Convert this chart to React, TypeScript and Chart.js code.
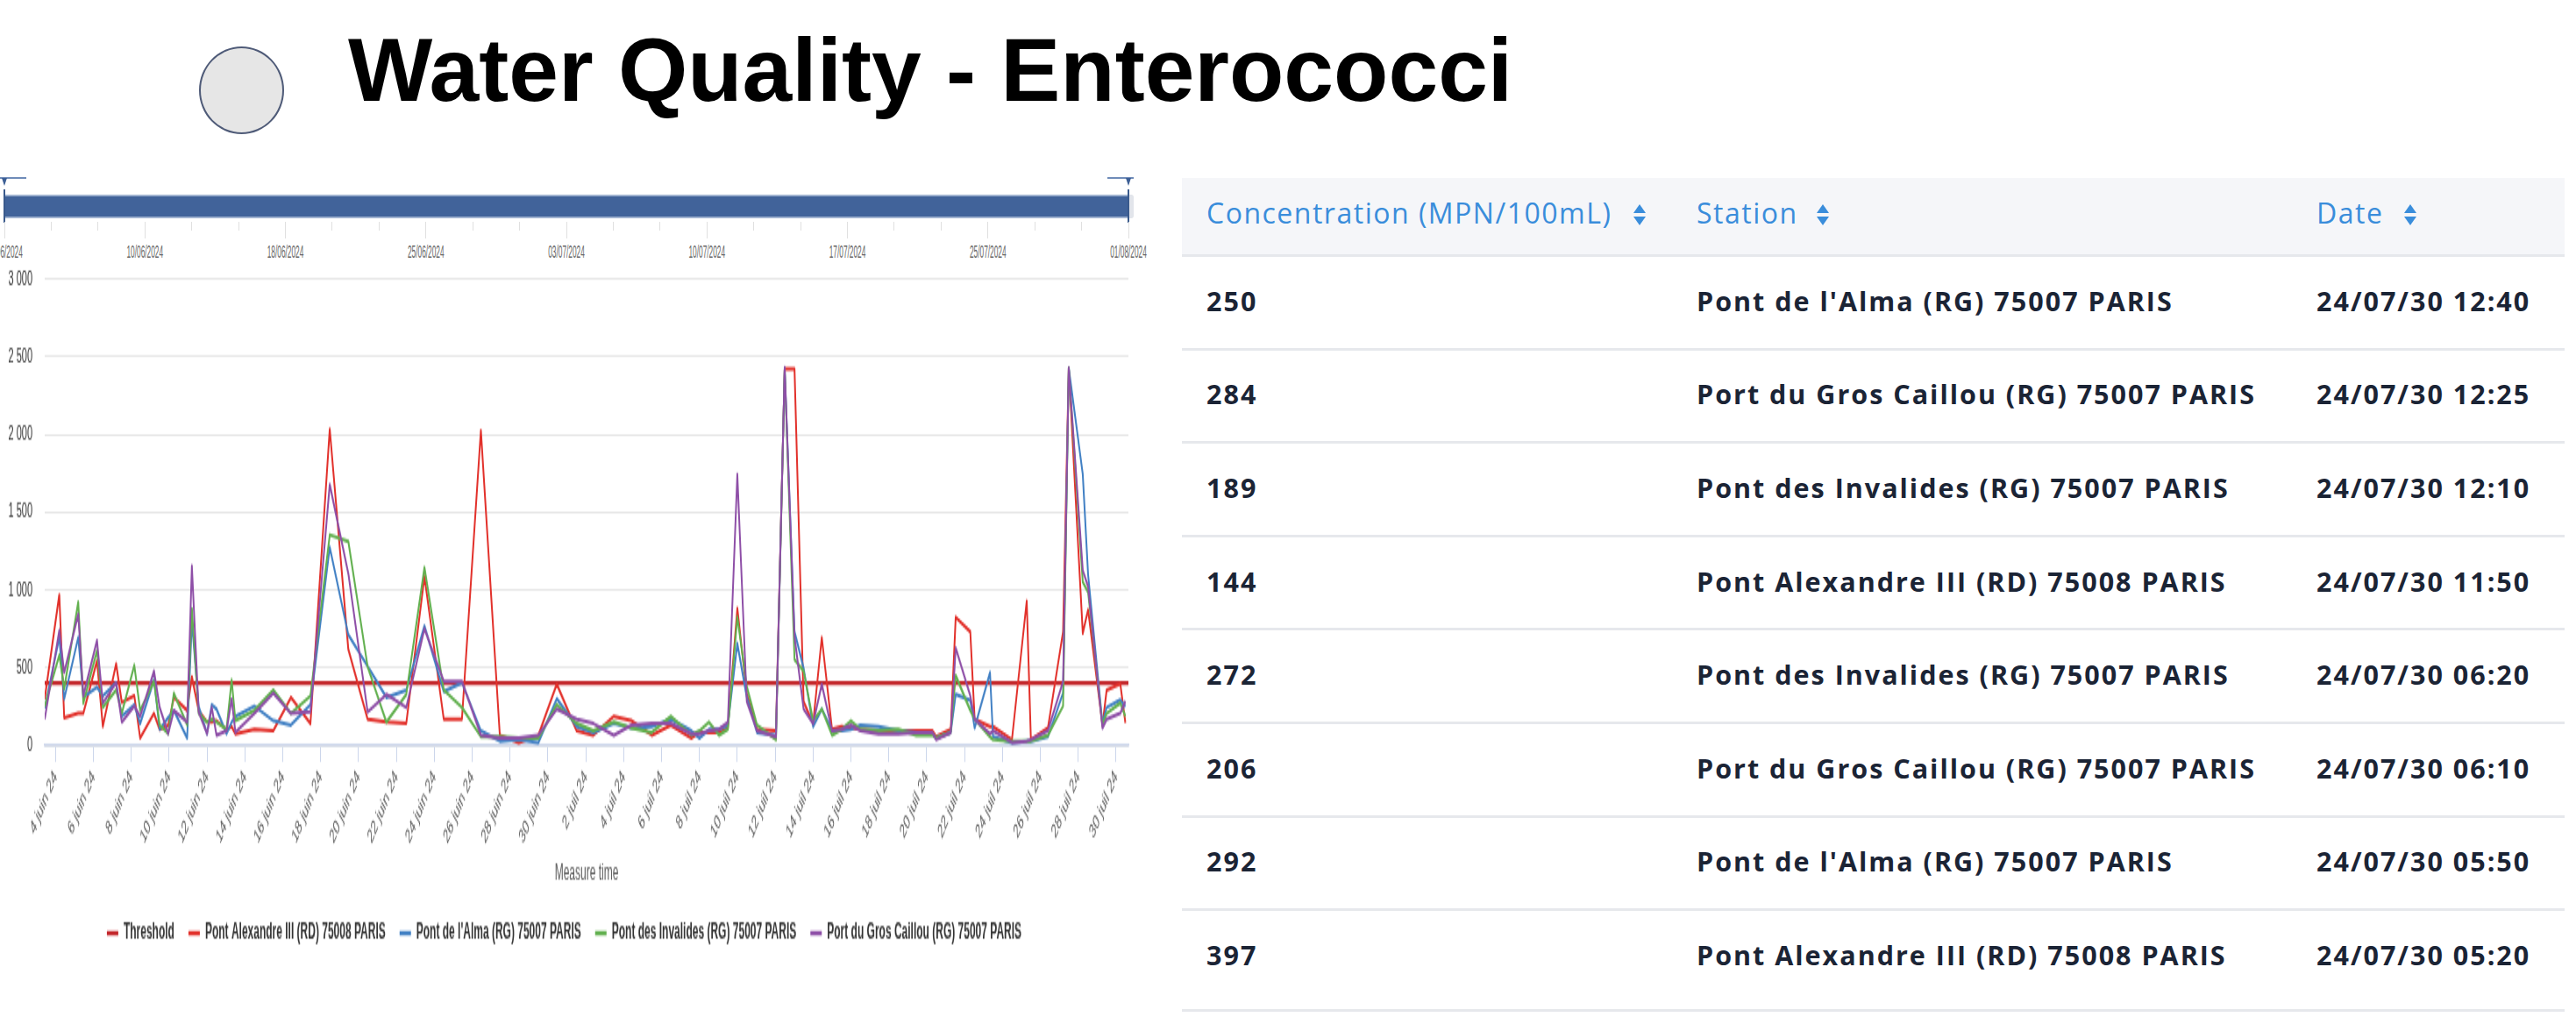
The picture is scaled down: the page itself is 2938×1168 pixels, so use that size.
import React, { useEffect, useRef } from "react";
import { Chart, registerables } from "chart.js";

Chart.register(...registerables);

// ---------- data ----------
// sample times, in days since 0 June 2024 (4 = 4 June, 32 = 2 July)
const times = [
  3.43, 4.2, 4.46, 5.2, 5.47, 6.19, 6.5, 7.2, 7.5, 8.16, 8.47, 9.2, 9.5, 9.95, 10.25, 10.95, 11.2, 11.56, 12.0, 12.25,
  12.5, 13.03, 13.3, 13.5, 14.5, 15.5, 16.43, 17.46, 18.48, 19.46, 20.48, 21.47, 22.52, 23.48, 24.5, 25.46, 26.46, 27.46,
  28.46, 29.5, 30.47, 31.52, 32.4, 33.48, 34.4, 35.48, 36.49, 37.57, 38.0, 38.5, 39.03, 39.5, 40.0, 40.5, 41.04, 42.04,
  42.5, 43.02, 43.5, 44.0, 44.46, 45.0, 45.5, 46.0, 46.5, 47.45, 48.5, 49.45, 50.3, 50.5, 51.27, 51.53, 52.3, 52.53,
  53.34, 53.5, 54.5, 55.28, 55.5, 56.4, 57.2, 57.5, 58.24, 58.52, 59.28, 59.5, 60.22, 60.49,
];

const alexandre = [
  300, 969, 178, 206, 206, 544, 122, 525, 277, 319, 47, 206, 103, 130, 309, 225, 441, 225, 150, 150,
  159, 103, 120, 75, 103, 94, 309, 141, 2034, 619, 169, 150, 141, 1087, 169, 169, 2025, 66,
  19, 66, 394, 94, 66, 187, 159, 66, 131, 47, 84, 84, 84, 112, 881, 330, 103, 94,
  2420, 2420, 281, 141, 694, 103, 122, 112, 103, 94, 94, 94, 94, 56, 103, 825, 731, 169,
  122, 122, 37, 928, 37, 112, 731, 2428, 722, 872, 131, 356, 397, 144,
];

const alma = [
  240, 694, 300, 694, 310, 375, 319, 403, 187, 262, 141, 422, 103, 180, 225, 47, 800, 250, 75, 262,
  234, 75, 150, 187, 253, 159, 131, 262, 1275, 712, 510, 309, 356, 768, 347, 403, 94, 28,
  37, 19, 300, 122, 84, 141, 112, 122, 169, 94, 47, 103, 103, 131, 656, 310, 84, 66,
  2420, 731, 497, 122, 234, 94, 94, 103, 131, 122, 94, 84, 75, 47, 84, 328, 291, 112,
  469, 56, 19, 28, 28, 56, 337, 2428, 1743, 1100, 141, 244, 292, 250,
];

const invalides = [
  253, 581, 366, 922, 272, 609, 244, 356, 206, 516, 225, 412, 131, 75, 337, 131, 880, 206, 150, 169,
  150, 103, 422, 159, 225, 356, 206, 319, 1354, 1312, 506, 150, 328, 1144, 356, 244, 56, 56,
  47, 47, 262, 141, 94, 150, 112, 84, 187, 66, 94, 150, 66, 103, 825, 380, 131, 37,
  2420, 553, 478, 159, 234, 66, 103, 159, 103, 94, 103, 66, 66, 47, 84, 450, 225, 169,
  56, 37, 28, 28, 28, 66, 253, 2428, 1050, 985, 131, 206, 272, 189,
];

const grosCaillou = [
  169, 740, 469, 844, 319, 675, 272, 403, 150, 253, 187, 478, 244, 75, 225, 150, 1153, 215, 75, 244,
  66, 94, 300, 84, 206, 337, 206, 215, 1678, 1106, 215, 328, 244, 750, 412, 412, 66, 47,
  47, 66, 234, 169, 141, 66, 131, 141, 141, 75, 75, 94, 103, 150, 1743, 281, 94, 56,
  2430, 700, 234, 141, 394, 94, 103, 131, 94, 75, 75, 84, 84, 37, 84, 628, 319, 169,
  75, 94, 19, 28, 37, 94, 412, 2428, 1125, 1022, 112, 169, 206, 284,
];

const thresholdValue = 400;
const xMin = 3.43;
const xMax = 60.65;

const xTickDays = [4, 6, 8, 10, 12, 14, 16, 18, 20, 22, 24, 26, 28, 30, 32, 34, 36, 38, 40, 42, 44, 46, 48, 50, 52, 54, 56, 58, 60];
const xTickLabels = [
  "4 juin 24", "6 juin 24", "8 juin 24", "10 juin 24", "12 juin 24", "14 juin 24", "16 juin 24", "18 juin 24",
  "20 juin 24", "22 juin 24", "24 juin 24", "26 juin 24", "28 juin 24", "30 juin 24",
  "2 juil 24", "4 juil 24", "6 juil 24", "8 juil 24", "10 juil 24", "12 juil 24", "14 juil 24", "16 juil 24",
  "18 juil 24", "20 juil 24", "22 juil 24", "24 juil 24", "26 juil 24", "28 juil 24", "30 juil 24",
];
const yTicks = [0, 500, 1000, 1500, 2000, 2500, 3000];

const navLabels = ["03/06/2024", "10/06/2024", "18/06/2024", "25/06/2024", "03/07/2024", "10/07/2024", "17/07/2024", "25/07/2024", "01/08/2024"];

const seriesNames = [
  "Threshold",
  "Pont Alexandre III (RD) 75008 PARIS",
  "Pont de l'Alma (RG) 75007 PARIS",
  "Pont des Invalides (RG) 75007 PARIS",
  "Port du Gros Caillou (RG) 75007 PARIS",
];

const tableHeaders = ["Concentration (MPN/100mL)", "Station", "Date"];
const tableConcentration = [250, 284, 189, 144, 272, 206, 292, 397];
const tableStation = [
  "Pont de l'Alma (RG) 75007 PARIS",
  "Port du Gros Caillou (RG) 75007 PARIS",
  "Pont des Invalides (RG) 75007 PARIS",
  "Pont Alexandre III (RD) 75008 PARIS",
  "Pont des Invalides (RG) 75007 PARIS",
  "Port du Gros Caillou (RG) 75007 PARIS",
  "Pont de l'Alma (RG) 75007 PARIS",
  "Pont Alexandre III (RD) 75008 PARIS",
];
const tableDate = [
  "24/07/30 12:40", "24/07/30 12:25", "24/07/30 12:10", "24/07/30 11:50",
  "24/07/30 06:20", "24/07/30 06:10", "24/07/30 05:50", "24/07/30 05:20",
];

// ---------- styles ----------
const FONT = "'Liberation Sans', Arial, Helvetica, sans-serif";
const TFONT = "'Open Sans', 'Noto Sans', sans-serif";
const C_THRESH = "#c3262a";
const C_RED = "#e2312b";
const C_BLUE = "#4180c4";
const C_GREEN = "#62b04f";
const C_PURPLE = "#8e4fa7";
const SY = 2.1; // vertical stretch of the chart picture
const CW = 1293;
const CH = 380;

function fmtY(v: number): string {
  if (v >= 1000) return Math.floor(v / 1000) + " " + String(v % 1000).padStart(3, "0");
  return String(v);
}

function ChartPanel() {
  const ref = useRef<HTMLCanvasElement>(null);
  useEffect(() => {
    if (!ref.current) return;
    const pts = (arr: number[]) => times.map((t, i) => ({ x: t, y: arr[i] }));
    const chart = new Chart(ref.current, {
      type: "line",
      data: {
        datasets: [
          { label: seriesNames[0], data: [{ x: xMin, y: thresholdValue }, { x: xMax, y: thresholdValue }], borderColor: C_THRESH, backgroundColor: C_THRESH, borderWidth: 2.2, order: 4 },
          { label: seriesNames[1], data: pts(alexandre), borderColor: C_RED, backgroundColor: C_RED, order: 3 },
          { label: seriesNames[2], data: pts(alma), borderColor: C_BLUE, backgroundColor: C_BLUE, order: 2 },
          { label: seriesNames[3], data: pts(invalides), borderColor: C_GREEN, backgroundColor: C_GREEN, order: 1 },
          { label: seriesNames[4], data: pts(grosCaillou), borderColor: C_PURPLE, backgroundColor: C_PURPLE, order: 0 },
        ],
      },
      options: {
        responsive: false,
        animation: false,
        events: [],
        elements: {
          point: { radius: 0 },
          line: { tension: 0, borderWidth: 2, borderJoinStyle: "round", fill: false },
        },
        layout: { padding: { top: 8, right: 6, left: 0, bottom: 0 } },
        plugins: {
          tooltip: { enabled: false },
          legend: {
            position: "bottom",
            labels: {
              boxWidth: 13,
              boxHeight: 2.5,
              padding: 16,
              color: "#333333",
              font: { family: FONT, size: 12, weight: "bold" },
              sort: (a: any, b: any) => a.datasetIndex - b.datasetIndex,
              generateLabels: (c: any) =>
                (Chart.defaults.plugins.legend.labels.generateLabels as any)(c).map((l: any) => ({ ...l, lineWidth: 0 })),
            },
          },
        },
        scales: {
          x: {
            type: "linear",
            min: xMin,
            max: xMax,
            afterBuildTicks: (s: any) => {
              s.ticks = xTickDays.map((v) => ({ value: v }));
            },
            afterFit: (s: any) => {
              s.height = 80;
            },
            ticks: {
              autoSkip: false,
              minRotation: 50,
              maxRotation: 50,
              padding: 2,
              color: "#5a5a5a",
              font: { family: FONT, size: 11 },
              callback: (v: any) => {
                const i = xTickDays.indexOf(Number(v));
                return i >= 0 ? xTickLabels[i] : "";
              },
            },
            grid: { drawOnChartArea: false, drawTicks: true, tickLength: 9, color: "#ccd6eb" },
            border: { display: true, color: "#ccd6eb", width: 1.5 },
            title: {
              display: true,
              text: "Measure time",
              color: "#5a5a5a",
              font: { family: FONT, size: 12 },
              padding: { top: 0, bottom: 3 },
            },
          },
          y: {
            min: 0,
            max: 3000,
            afterBuildTicks: (s: any) => {
              s.ticks = yTicks.map((v) => ({ value: v }));
            },
            afterFit: (s: any) => {
              s.width = 51;
            },
            ticks: {
              padding: 2,
              color: "#333333",
              font: { family: FONT, size: 11 },
              callback: (v: any) => fmtY(Number(v)),
            },
            grid: { color: "#e6e6e6", lineWidth: 1, drawTicks: true, tickLength: 12, tickColor: "rgba(0,0,0,0)" },
            border: { display: false },
          },
        },
      } as any,
    });
    return () => chart.destroy();
  }, []);
  return (
    <canvas
      ref={ref}
      width={CW}
      height={CH}
      style={{ position: "absolute", left: 0, top: 300, width: CW + "px", height: CH * SY + "px" }}
    />
  );
}

function Navigator() {
  const x0 = 5;
  const x1 = 1287;
  const n = 24;
  const step = (x1 - x0) / n;
  const ticks = [];
  for (let k = 0; k <= n; k++) {
    const x = x0 + k * step;
    const major = k % 3 === 0;
    ticks.push(
      <div key={"t" + k} style={{ position: "absolute", left: x - 0.5, top: 253, width: 1, height: major ? 19 : 10, background: "#e0e0e0" }} />
    );
  }
  return (
    <>
      <div style={{ position: "absolute", left: 0, top: 202, width: 30, height: 2, background: "#6f8bb8" }} />
      <div style={{ position: "absolute", left: 2, top: 203, width: 0, height: 0, borderLeft: "3px solid transparent", borderRight: "3px solid transparent", borderTop: "9px solid #3d5f95" }} />
      <div style={{ position: "absolute", left: 1263, top: 202, width: 30, height: 2, background: "#6f8bb8" }} />
      <div style={{ position: "absolute", left: 1284, top: 203, width: 0, height: 0, borderLeft: "3px solid transparent", borderRight: "3px solid transparent", borderTop: "9px solid #3d5f95" }} />
      <div style={{ position: "absolute", left: x0, top: 222, width: x1 - x0, height: 27, background: "#41639a", borderTop: "2px solid #9fb2d0", borderBottom: "2px solid #9fb2d0", boxSizing: "border-box" }} />
      <div style={{ position: "absolute", left: x1, top: 222, width: 6, height: 27, background: "#e2e5eb", borderRadius: "0 3px 3px 0" }} />
      <div style={{ position: "absolute", left: x0 - 1, top: 216, width: 2, height: 38, background: "#3a5a8c" }} />
      <div style={{ position: "absolute", left: x1 - 1, top: 216, width: 2, height: 38, background: "#3a5a8c" }} />
      {ticks}
      {navLabels.map((t, i) => {
        const x = x0 + i * 3 * step;
        return (
          <div
            key={"l" + i}
            style={{
              position: "absolute",
              left: x - 40,
              top: 281,
              width: 80,
              height: 10,
              lineHeight: "10px",
              textAlign: "center",
              fontFamily: FONT,
              fontSize: 8.3,
              color: "#666666",
              transform: "scaleY(2.5)",
              transformOrigin: "center",
              whiteSpace: "nowrap",
            }}
          >
            {t}
          </div>
        );
      })}
    </>
  );
}

function SortIcon({ x }: { x: number }) {
  return (
    <>
      <div style={{ position: "absolute", left: x, top: 233, width: 0, height: 0, borderLeft: "7px solid transparent", borderRight: "7px solid transparent", borderBottom: "10px solid #3a8ddb" }} />
      <div style={{ position: "absolute", left: x, top: 247, width: 0, height: 0, borderLeft: "7px solid transparent", borderRight: "7px solid transparent", borderTop: "10px solid #3a8ddb" }} />
    </>
  );
}

function DataTable() {
  const left = 1348;
  const right = 2925;
  const colX = [1376, 1935, 2642];
  const iconX = [1863, 2072, 2742];
  const rowTop = 291;
  const rowH = 106.6;
  return (
    <>
      <div style={{ position: "absolute", left, top: 203, width: right - left, height: 88, background: "#f5f6f9" }} />
      {tableHeaders.map((h, i) => (
        <div
          key={"h" + i}
          style={{
            position: "absolute",
            left: colX[i],
            top: 243 - 25,
            height: 50,
            display: "flex",
            alignItems: "center",
            fontFamily: TFONT,
            fontSize: 32,
            fontWeight: 500,
            letterSpacing: "1.5px",
            color: "#3a8ddb",
            lineHeight: 1,
            whiteSpace: "nowrap",
          }}
        >
          {h}
        </div>
      ))}
      {iconX.map((x, i) => (
        <SortIcon key={"i" + i} x={x} />
      ))}
      {tableConcentration.map((v, i) => {
        const cy = rowTop + 52 + i * rowH;
        const cells = [String(v), tableStation[i], tableDate[i]];
        return (
          <React.Fragment key={"r" + i}>
            <div style={{ position: "absolute", left, top: rowTop + i * rowH - 1, width: right - left, height: 3, background: "#e6e8ec" }} />
            {cells.map((c, j) => (
              <div
                key={"c" + j}
                style={{
                  position: "absolute",
                  left: colX[j],
                  top: cy - 25,
                  height: 50,
                  display: "flex",
                  alignItems: "center",
                  fontFamily: TFONT,
                  fontSize: 30.5,
                  fontWeight: 700,
                  letterSpacing: "2px",
                  color: "#1b2435",
                  lineHeight: 1,
                  whiteSpace: "nowrap",
                }}
              >
                {c}
              </div>
            ))}
          </React.Fragment>
        );
      })}
      <div style={{ position: "absolute", left, top: 1151, width: right - left, height: 3, background: "#e6e8ec" }} />
    </>
  );
}

export default function App() {
  return (
    <div style={{ position: "absolute", left: 0, top: 0, width: 2938, height: 1168, overflow: "hidden", background: "#ffffff" }}>
      <div
        style={{
          position: "absolute",
          left: 227,
          top: 53,
          width: 97,
          height: 100,
          borderRadius: "50%",
          background: "#e6e6e6",
          border: "2px solid #4f5b78",
          boxSizing: "border-box",
        }}
      />
      <div
        style={{
          position: "absolute",
          left: 397,
          top: 28.7,
          fontFamily: FONT,
          fontWeight: 700,
          fontSize: 102,
          lineHeight: "102px",
          color: "#000000",
          whiteSpace: "nowrap",
        }}
      >
        Water Quality - Enterococci
      </div>
      <Navigator />
      <ChartPanel />
      <DataTable />
    </div>
  );
}
